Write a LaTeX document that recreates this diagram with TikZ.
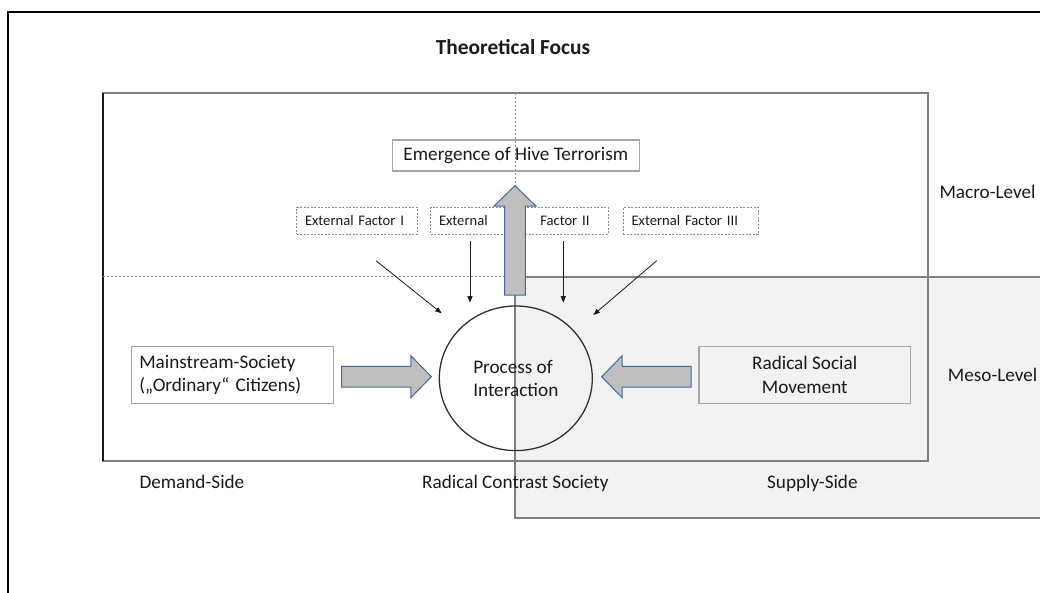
\documentclass[tikz,border=0pt]{standalone}
\usepackage{fontspec}
\setmainfont{Carlito}
\usetikzlibrary{calc,shapes.geometric,arrows.meta}

\definecolor{ink}{HTML}{1A1A1A}
\definecolor{framegray}{HTML}{7F7F7F}
\definecolor{boxgray}{HTML}{A6A6A6}
\definecolor{dashgray}{HTML}{8C8C8C}
\definecolor{shade}{HTML}{F2F2F2}
\definecolor{arrowfill}{HTML}{BFBFBF}
\definecolor{arrowedge}{HTML}{41699F}

\tikzset{
  bigtext/.style={font=\fontsize{19.2}{23.3}\selectfont, text=ink},
  smalltext/.style={font=\fontsize{14.6}{17}\selectfont, text=ink},
  solidbox/.style={draw=boxgray, line width=1.3pt, inner sep=0pt, bigtext},
  factorbox/.style={draw=dashgray, line width=0.9pt, dash pattern=on 2pt off 1.5pt,
    minimum height=26.7pt, inner ysep=0pt, inner xsep=8.3pt, align=left, smalltext},
  influence/.style={draw=ink, line width=0.8pt, -{Triangle[length=6.5pt,width=5pt]}},
  guide/.style={draw=dashgray, line width=0.8pt, dash pattern=on 2pt off 2pt},
  sidelabel/.style={bigtext, inner sep=0pt},
  % broad outlined arrow drawn along a "to" segment
  blockarrow/.style={draw=arrowedge, fill=arrowfill, line width=1pt, line join=miter,
    to path={let \p1=(\tikztostart), \p2=(\tikztotarget),
        \n1={atan2(\y2-\y1,\x2-\x1)}, \n2={veclen(\x2-\x1,\y2-\y1)-20.5}
      in (\p1) ++(\n1+90:10.4pt) -- ++(\n1:\n2) -- ++(\n1+90:10.6pt)
         -- (\p2) -- ($(\p1)+(\n1:\n2)+(\n1-90:21pt)$) -- ++(\n1+90:10.6pt)
         -- ++(\n1+180:\n2) -- cycle}},
}

\begin{document}
\begin{tikzpicture}[x=1pt, y=-1pt]
\useasboundingbox (0,0) rectangle (1040,593);

% supply-side field, running past the right edge
\draw[draw=framegray, fill=shade, line width=1.8pt] (515,276.7) rectangle (1070,518.3);
% macro-level frame (left edge set darker)
\draw[draw=framegray, line width=2pt] (103,93.3) rectangle (927.7,460.7);
\draw[draw=ink, line width=1.8pt] (103,93.3) -- (103,460.7);
% dashed dividers continuing the field edges
\draw[guide] (515,93.3) -- (515,186);
\draw[guide] (103,276.7) -- (515,276.7);

% heading
\node[font=\fontsize{21.4}{25}\selectfont\bfseries, text=ink, anchor=base] (title) at (513,55) {Theoretical Focus};

% outcome
\node[solidbox, minimum width=247pt, minimum height=31pt] (emerg) at (515.8,155.5) {Emergence of Hive Terrorism};

% external factors
\node[factorbox, text width=104pt] (f1) at (357,220.7) {External Factor I};
\node[factorbox, text width=161pt] (f2) at (519.5,220.7) {External\hspace{52.7pt}Factor II};
\node[factorbox, text width=118.4pt] (f3) at (690.8,220.7) {External Factor III};

% interaction process
\node[ellipse, draw=ink!90, line width=1.3pt, minimum width=153pt, minimum height=144.6pt,
      inner sep=0pt, align=left, bigtext] (proc) at (515.8,378.3) {Process of\\Interaction};

% actors
\node[solidbox, minimum width=202pt, minimum height=56.6pt, text width=186.8pt, inner xsep=7.6pt, align=left]
  (ms) at (232.7,375) {Mainstream-Society\\(„Ordinary“ Citizens)};
\node[solidbox, minimum width=211.3pt, minimum height=56.6pt, align=center]
  (rsm) at (804.7,375) {Radical Social\\Movement};

% level and side labels
\node[sidelabel, anchor=base west] (macro) at (939.3,198.3) {Macro-Level};
\node[sidelabel, anchor=base west] (meso) at (947.7,381.7) {Meso-Level};
\node[sidelabel, anchor=base west] (demand) at (139.3,488) {Demand-Side};
\node[sidelabel, anchor=base] (contrast) at (515.4,488.5) {Radical Contrast Society};
\node[sidelabel, anchor=base] (supply) at (812.4,488) {Supply-Side};

% influence of the external factors
\coordinate (f1s) at (376,260.7);   \coordinate (f1e) at (441.7,313.3);
\coordinate (f2as) at (470,241);    \coordinate (f2ae) at (470,302.7);
\coordinate (f2bs) at (563.3,241);  \coordinate (f2be) at (563.3,302.7);
\coordinate (f3s) at (656.7,260.7); \coordinate (f3e) at (593.3,315);
\draw[influence] (f1s) -- (f1e);
\draw[influence] (f2as) -- (f2ae);
\draw[influence] (f2bs) -- (f2be);
\draw[influence] (f3s) -- (f3e);

% broad arrows
\draw[blockarrow] ($(ms.east|-proc.west)+(7.3,-1.6)$) to ($(proc.west)+(-7.3,-1.6)$);
\draw[blockarrow] ($(rsm.west|-proc.east)+(-7.3,-1.6)$) to ($(proc.east)+(8.7,-1.6)$);
\draw[blockarrow] ($(proc.north)+(-0.8,-10.3)$) to ($(emerg.south)+(-0.8,14)$);

% outer frame
\draw[black, line width=1.5pt] (8,12) rectangle (1070,620);
\end{tikzpicture}
\end{document}
